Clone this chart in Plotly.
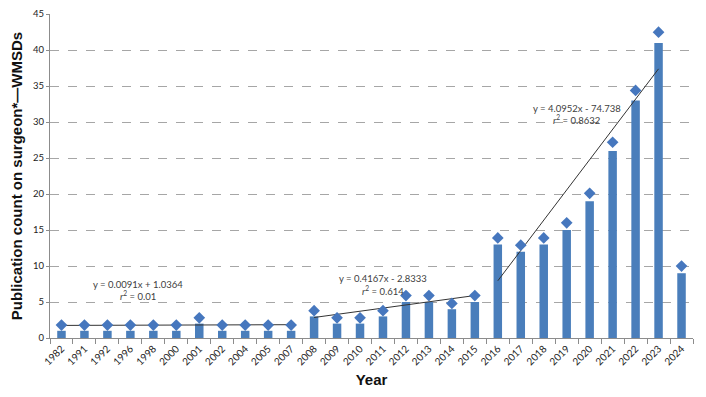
import plotly.graph_objects as go

years = ["1982", "1991", "1992", "1996", "1998", "2000", "2001", "2002", "2004", "2005",
         "2007", "2008", "2009", "2010", "2011", "2012", "2013", "2014", "2015", "2016",
         "2017", "2018", "2019", "2020", "2021", "2022", "2023", "2024"]
counts = [1, 1, 1, 1, 1, 1, 2, 1, 1, 1,
          1, 3, 2, 2, 3, 5, 5, 4, 5, 13,
          12, 13, 15, 19, 26, 33, 41, 9]
markers = [1.8, 1.8, 1.8, 1.8, 1.8, 1.8, 2.8, 1.8, 1.8, 1.8,
           1.8, 3.8, 2.8, 2.8, 3.8, 5.9, 5.9, 4.8, 5.9, 13.9,
           12.9, 13.9, 16.0, 20.1, 27.2, 34.4, 42.5, 10.0]
y_ticks = [0, 5, 10, 15, 20, 25, 30, 35, 40, 45]

# trend segments (start/end category and value as seen on the chart)
trend1_x = ["1982", "2007"]
trend1_y = [1.75, 1.85]
trend2_x = ["2008", "2015"]
trend2_y = [2.85, 5.9]
trend3_x = ["2016", "2023"]
trend3_y = [7.95, 37.4]

eq_lines = ["y = 0.0091x + 1.0364", "y = 0.4167x - 2.8333", "y = 4.0952x - 74.738"]
r2_lines = ["<i>r</i><sup>2</sup> = 0.01", "<i>r</i><sup>2</sup> = 0.614",
            "<i>r</i><sup>2</sup> = 0.8632"]
eq_x = [3.33, 14.02, 22.44]
eq_y = [7.42, 8.2, 31.85]
r2_y = [5.95, 6.6, 30.4]

BLUE = "#4A7EBB"
DIAM = "#4677BE"
TXT = "#404040"

fig = go.Figure()
fig.add_trace(go.Bar(x=years, y=counts, marker=dict(color=BLUE, line=dict(width=0)),
                     width=0.37, showlegend=False))
for tx, ty in [(trend1_x, trend1_y), (trend2_x, trend2_y), (trend3_x, trend3_y)]:
    fig.add_trace(go.Scatter(x=tx, y=ty, mode="lines", line=dict(color="#333333", width=1),
                             showlegend=False))
fig.add_trace(go.Scatter(x=years, y=markers, mode="markers",
                         marker=dict(symbol="diamond", size=9, color=DIAM),
                         showlegend=False))

afont = dict(family="Lato, Open Sans, sans-serif", size=9.5, color=TXT)
for ex, ey, ry, t1, t2 in zip(eq_x, eq_y, r2_y, eq_lines, r2_lines):
    fig.add_annotation(x=ex, y=ey, xref="x", yref="y", text=t1, showarrow=False,
                       font=afont, yanchor="middle")
    fig.add_annotation(x=ex, y=ry, xref="x", yref="y", text=t2, showarrow=False,
                       font=afont, yanchor="middle")

fig.update_layout(
    width=706, height=397,
    margin=dict(l=42, r=21, t=6, b=67),
    paper_bgcolor="white", plot_bgcolor="white",
    bargap=0.6,
    xaxis=dict(
        type="category", categoryorder="array", categoryarray=years,
        range=[-0.5, len(years) - 0.5], automargin=False,
        showline=True, linecolor="#8c8c8c", linewidth=1,
        ticks="outside", tickson="boundaries", ticklen=5, tickcolor="#8c8c8c",
        tickangle=-45, tickfont=dict(family="Lato, Open Sans, sans-serif", size=10, color="#222"),
        showgrid=False,
        title=dict(text="<b>Year</b>", font=dict(family="Liberation Sans, Arial", size=15, color="#111"),
                   standoff=8),
    ),
    yaxis=dict(
        range=[0, 45.02], tickmode="array", tickvals=y_ticks, automargin=False,
        ticklabeloverflow="allow",
        showline=True, linecolor="#8c8c8c", linewidth=1,
        ticks="outside", ticklen=3, tickcolor="#8c8c8c",
        tickfont=dict(family="Lato, Open Sans, sans-serif", size=9.5, color="#222"),
        showgrid=True, gridcolor="#a6a6a6", griddash="dash", gridwidth=1,
        zeroline=False,
        title=dict(text="<b>Publication count on surgeon*—WMSDs</b>",
                   font=dict(family="Liberation Sans, Arial", size=15, color="#111"),
                   standoff=8),
    ),
)

fig.write_html("out.html")
